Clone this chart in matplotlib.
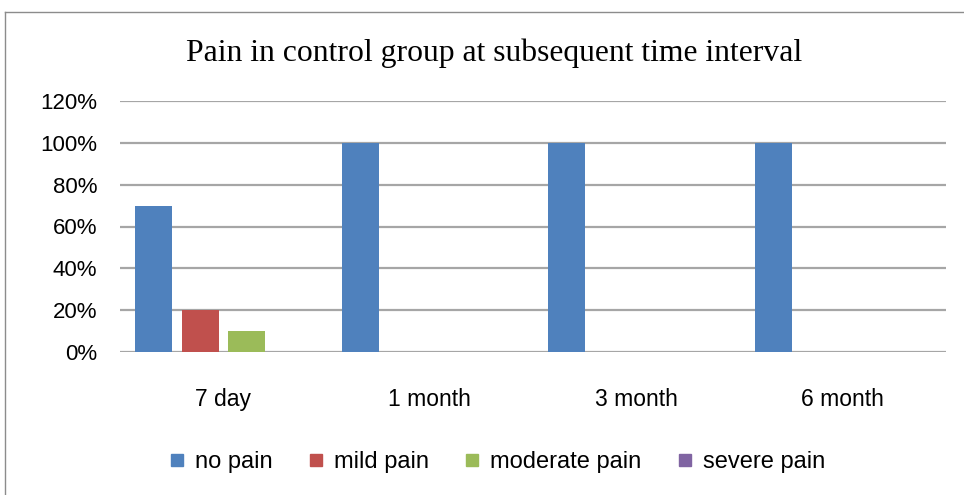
import matplotlib.pyplot as plt
import numpy as np
from matplotlib.lines import Line2D

times = ['7 day', '1 month', '3 month', '6 month']
no_pain = [0.70, 1.00, 1.00, 1.00]
mild_pain = [0.20, 0.0, 0.0, 0.0]
moderate_pain = [0.10, 0.0, 0.0, 0.0]
severe_pain = [0.0, 0.0, 0.0, 0.0]
series_names = ['no pain', 'mild pain', 'moderate pain', 'severe pain']
colors = ['#4F81BD', '#C0504D', '#9BBB59', '#8064A2']
yticks = [0, 0.2, 0.4, 0.6, 0.8, 1.0, 1.2]

plt.rcParams['font.family'] = ['Liberation Sans', 'DejaVu Sans']

fig = plt.figure(figsize=(9.64, 4.95), dpi=100)
W, H = 964, 495
ax = fig.add_axes([120 / W, 1 - 352 / H, (946 - 120) / W, (352 - 101) / H])

# chart border (Excel style frame)
fig.add_artist(Line2D([5 / W, 5 / W], [0, 1 - 12 / H], color='#8C8C8C', lw=1))
fig.add_artist(Line2D([5 / W, 1], [1 - 12 / H, 1 - 12 / H], color='#8C8C8C', lw=1))

x = np.arange(len(times))
width = 37 / 206.5
step = 46.5 / 206.5
for i, vals in enumerate([no_pain, mild_pain, moderate_pain, severe_pain]):
    ax.bar(x + (i - 1.5) * step, vals, width, color=colors[i], label=series_names[i], zorder=3)

for y in yticks:
    ax.axhline(y, color='#A6A6A6', lw=1.6, zorder=1)

ax.set_xlim(-0.5, 3.5)
ax.set_ylim(0, 1.2)
ax.set_yticks(yticks)
ax.set_yticklabels([f'{int(round(v * 100))}%' for v in yticks], fontsize=16)
ax.set_xticks(x)
ax.set_xticklabels(times, fontsize=16.5)
ax.tick_params(length=0, pad=16.5, axis='y')
ax.tick_params(length=0, pad=26, axis='x')
for s in ax.spines.values():
    s.set_visible(False)

fig.text(494 / W, 1 - 61 / H, 'Pain in control group at subsequent time interval',
         family='Liberation Serif', fontsize=22.8, ha='center', va='baseline')

handles = [Line2D([0], [0], marker='s', color='none', markerfacecolor=c, markeredgecolor=c,
                  markersize=8) for c in colors]
fig.legend(handles, series_names, loc='center', bbox_to_anchor=(498 / W, 1 - 462 / H),
           ncol=4, frameon=False, fontsize=17, handlelength=0.5, handletextpad=0.5,
           columnspacing=1.6)

fig.savefig('out.png', dpi=100)
